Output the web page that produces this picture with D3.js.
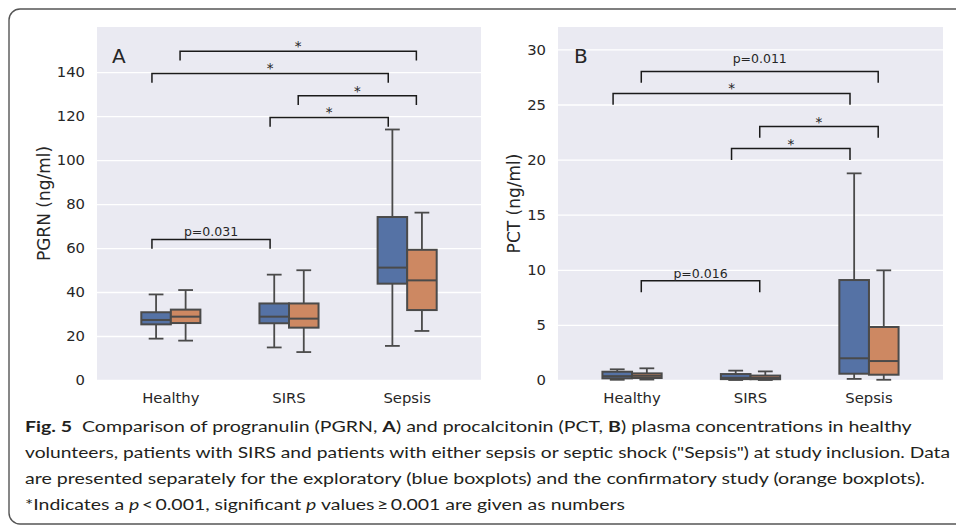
<!DOCTYPE html>
<html>
<head>
<meta charset="utf-8">
<script src="https://cdn.jsdelivr.net/npm/d3@7"></script>
<style>
	body { margin: 0; background: #fff; }
	svg { display: block; }
	.tick-label { font-family: 'DejaVu Sans', sans-serif; fill: #262626; }
	.caption { font-family: Lato, 'Open Sans', sans-serif; fill: #231f20; font-size: 15.8px; }
</style>
</head>
<body>
<div id="chart"></div>
<script>
// Categories and studies
const groups = ['Healthy', 'SIRS', 'Sepsis'];
const studies = ['exploratory', 'confirmatory'];

// Box stats per group: [lower whisker, q1, median, q3, upper whisker]
const pgrnExploratory = [[18.8, 25.3, 27.3, 30.8, 38.9], [14.8, 25.8, 28.8, 34.8, 47.9], [15.5, 43.8, 51.1, 74.1, 113.9]];
const pgrnConfirmatory = [[17.9, 25.9, 28.8, 32.0, 40.9], [12.7, 23.8, 27.9, 34.8, 49.9], [22.3, 31.8, 45.3, 59.2, 76.1]];
const pctExploratory = [[0.02, 0.15, 0.35, 0.75, 0.97], [0.0, 0.08, 0.2, 0.54, 0.85], [0.1, 0.57, 1.97, 9.07, 18.75]];
const pctConfirmatory = [[0.04, 0.18, 0.38, 0.6, 1.06], [0.0, 0.07, 0.18, 0.4, 0.78], [0.02, 0.48, 1.72, 4.81, 9.95]];

// Significance brackets: [group, study] to [group, study] at level y
const pgrnBrackets = [
	{ from: [0, 1], to: [2, 1], y: 149.5, label: '*' },
	{ from: [0, 0], to: [2, 0], y: 139.4, label: '*' },
	{ from: [1, 1], to: [2, 1], y: 129.2, label: '*' },
	{ from: [1, 0], to: [2, 0], y: 119.4, label: '*' },
	{ from: [0, 0], to: [1, 0], y: 63.9, label: 'p=0.031' }
];
const pctBrackets = [
	{ from: [0, 1], to: [2, 1], y: 28.0, label: 'p=0.011' },
	{ from: [0, 0], to: [2, 0], y: 26.0, label: '*' },
	{ from: [1, 1], to: [2, 1], y: 23.0, label: '*' },
	{ from: [1, 0], to: [2, 0], y: 21.0, label: '*' },
	{ from: [0, 1], to: [1, 1], y: 9.0, label: 'p=0.016' }
];

const pgrnTicks = [0, 20, 40, 60, 80, 100, 120, 140];
const pctTicks = [0, 5, 10, 15, 20, 25, 30];

const captionLines = [
	[{ t: 'Fig. 5', b: true }, { t: '\u00a0 Comparison of progranulin (PGRN, ' }, { t: 'A', b: true }, { t: ') and procalcitonin (PCT, ' }, { t: 'B', b: true }, { t: ') plasma concentrations in healthy' }],
	[{ t: 'volunteers, patients with SIRS and patients with either sepsis or septic shock ("Sepsis") at study inclusion. Data' }],
	[{ t: 'are presented separately for the exploratory (blue boxplots) and the confirmatory study (orange boxplots).' }],
	[{ t: '*Indicates a ' }, { t: 'p', i: true }, { t: '\u2009<\u20090.001, significant ' }, { t: 'p', i: true }, { t: ' values\u2009\u2265\u20090.001 are given as numbers' }]
];

const width = 956, height = 525;
const colors = ['#5572a5', '#cd8862'];
const lineColor = '#4a4a4a';

const svg = d3.select('#chart').append('svg')
	.attr('width', width)
	.attr('height', height);

// Outer frame
svg.append('rect')
	.attr('x', 9).attr('y', 9)
	.attr('width', 990).attr('height', 515)
	.attr('rx', 11)
	.attr('fill', 'none')
	.attr('stroke', '#555')
	.attr('stroke-width', 1.4);

function drawPanel(opts) {
	const { left, right, top, bottom } = opts;
	const g = svg.append('g');

	const x = d3.scaleLinear().domain([-0.625, 2.625]).range([left, right]);
	const y = d3.scaleLinear().domain(opts.domain).range([bottom, top]);

	g.append('rect')
		.attr('x', left).attr('y', top)
		.attr('width', right - left).attr('height', bottom - top)
		.attr('fill', '#eaeaf2');

	// Grid + y tick labels
	const yAxis = d3.axisLeft(y).tickValues(opts.ticks).tickSize(-(right - left)).tickPadding(12);
	const ya = g.append('g')
		.attr('transform', `translate(${left},0)`)
		.call(yAxis);
	ya.select('.domain').remove();
	ya.selectAll('.tick line').attr('stroke', '#fff').attr('stroke-width', 1.3);
	ya.selectAll('.tick text')
		.attr('class', 'tick-label')
		.attr('font-size', 14.8)
		.attr('font-family', 'DejaVu Sans');

	// x tick labels
	g.selectAll('.xlabel')
		.data(groups)
		.join('text')
		.attr('class', 'tick-label')
		.attr('x', (d, i) => x(i))
		.attr('y', bottom + 22.5)
		.attr('text-anchor', 'middle')
		.attr('font-size', 14.8)
		.text(d => d);

	// y axis title
	g.append('text')
		.attr('class', 'tick-label')
		.attr('transform', `translate(${opts.titleX},${(top + bottom) / 2}) rotate(-90)`)
		.attr('text-anchor', 'middle')
		.attr('font-size', 17)
		.text(opts.title);

	// panel letter
	g.append('text')
		.attr('class', 'tick-label')
		.attr('x', left + opts.letterDx)
		.attr('y', 62.5)
		.attr('font-size', 20)
		.text(opts.letter);

	// boxes
	const boxW = 0.25;
	opts.series.forEach((stats, s) => {
		const off = s === 0 ? -boxW : 0;
		const bg = g.append('g');
		stats.forEach((d, i) => {
			const x0 = x(i + off), x1 = x(i + off + boxW);
			const cx = (x0 + x1) / 2;
			const capHalf = (x1 - x0) / 4;
			const [lo, q1, med, q3, hi] = d;
			// whiskers
			bg.append('line')
				.attr('x1', cx).attr('x2', cx).attr('y1', y(q3)).attr('y2', y(hi))
				.attr('stroke', lineColor).attr('stroke-width', 1.8);
			bg.append('line')
				.attr('x1', cx).attr('x2', cx).attr('y1', y(q1)).attr('y2', y(lo))
				.attr('stroke', lineColor).attr('stroke-width', 1.8);
			[lo, hi].forEach(v => {
				bg.append('line')
					.attr('x1', cx - capHalf).attr('x2', cx + capHalf)
					.attr('y1', y(v)).attr('y2', y(v))
					.attr('stroke', lineColor).attr('stroke-width', 1.8);
			});
			bg.append('rect')
				.attr('x', x0).attr('y', y(q3))
				.attr('width', x1 - x0).attr('height', Math.max(0.5, y(q1) - y(q3)))
				.attr('fill', colors[s])
				.attr('stroke', lineColor).attr('stroke-width', 2);
			bg.append('line')
				.attr('x1', x0).attr('x2', x1).attr('y1', y(med)).attr('y2', y(med))
				.attr('stroke', lineColor).attr('stroke-width', 2);
		});
	});

	// significance brackets
	const bx = ([grp, st]) => x(grp + (st === 0 ? -0.16 : 0.078));
	opts.brackets.forEach(b => {
		const x0 = bx(b.from), x1 = bx(b.to);
		const yl = y(b.y), yd = y(b.y - opts.drop);
		g.append('path')
			.attr('d', `M${x0},${yd}V${yl}H${x1}V${yd}`)
			.attr('fill', 'none')
			.attr('stroke', '#1a1a1a')
			.attr('stroke-width', 1.5);
		const isStar = b.label === '*';
		g.append('text')
			.attr('x', (x0 + x1) / 2)
			.attr('y', yl - (isStar ? 0 : 3) - (opts.lift[b.label] || 0))
			.attr('text-anchor', 'middle')
			.attr('font-family', 'DejaVu Sans')
			.attr('font-size', isStar ? 13.5 : 12.5)
			.attr('fill', '#262626')
			.text(b.label);
	});
}

drawPanel({
	left: 97, right: 481, top: 27, bottom: 380,
	domain: [0, 160.5], ticks: pgrnTicks,
	series: [pgrnExploratory, pgrnConfirmatory],
	brackets: pgrnBrackets, drop: 4.2, lift: {},
	title: 'PGRN (ng/ml)', titleX: 49.5,
	letter: 'A', letterDx: 15
});

drawPanel({
	left: 558, right: 943, top: 27, bottom: 380,
	domain: [0, 32.03], ticks: pctTicks,
	series: [pctExploratory, pctConfirmatory],
	brackets: pctBrackets, drop: 1.03, lift: { 'p=0.011': 5 },
	title: 'PCT (ng/ml)', titleX: 519.5,
	letter: 'B', letterDx: 16
});

// Caption
const captionX = 25;
const captionBase = [431.5, 457.5, 483.5, 509.5];
const captionEnd = [911.7, 950, 925, 625];
captionLines.forEach((segs, i) => {
	const t = svg.append('text')
		.attr('class', 'caption')
		.attr('x', captionX)
		.attr('y', captionBase[i])
		.attr('textLength', captionEnd[i] - captionX)
		.attr('lengthAdjust', 'spacingAndGlyphs');
	segs.forEach(s => {
		t.append('tspan')
			.attr('font-weight', s.b ? 'bold' : null)
			.attr('font-style', s.i ? 'italic' : null)
			.text(s.t);
	});
});
</script>
</body>
</html>
